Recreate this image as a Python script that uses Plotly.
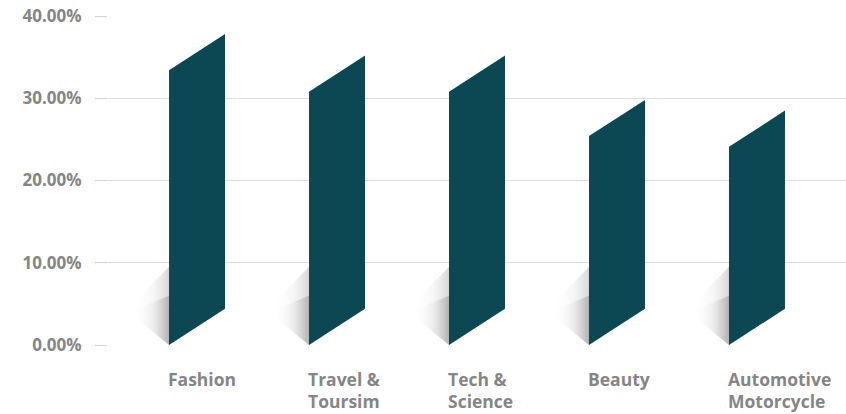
import plotly.graph_objects as go

categories = ["Fashion", "Travel &\nToursim", "Tech &\nScience", "Beauty", "Automotive\nMotorcycle"]
values = [0.334, 0.308, 0.308, 0.254, 0.241]
y_ticks = [0.0, 0.10, 0.20, 0.30, 0.40]

BAR_COLOR = "#0b4853"
TEXT_COLOR = "#858585"
GRID_COLOR = "#e2ddd8"
HALF_W = 0.2      # half bar width in category units
RISE = 0.044      # upward skew of the right edge
SHADOW_DX = 0.26  # horizontal reach of the cast shadow
LINE_GAP = 22     # px between label lines

# cast shadow layers: (top at bar edge, top at far edge, max alpha)
shadow_layers = [(0.095, 0.05, 0.28), (0.06, 0.042, 0.35)]

fig = go.Figure()

for i, v in enumerate(values):
    left, right = i - HALF_W, i + HALF_W
    # soft cast shadow falling to the left of the bar foot
    for top_edge, top_far, alpha in shadow_layers:
        fig.add_trace(go.Scatter(
            x=[left, left - SHADOW_DX, left - SHADOW_DX, left, left],
            y=[0, 0.036, top_far, top_edge, 0],
            mode="lines", line=dict(width=0), fill="toself",
            fillgradient=dict(type="horizontal",
                              colorscale=[[0, "rgba(255,255,255,0)"],
                                          [0.55, f"rgba(190,190,190,{alpha * 0.45:.3f})"],
                                          [1, f"rgba(110,110,110,{alpha:.3f})"]]),
            hoverinfo="skip", showlegend=False,
        ))
    # skewed bar (parallelogram)
    fig.add_trace(go.Scatter(
        x=[left, right, right, left, left],
        y=[0, RISE, v + RISE, v, 0],
        mode="lines", line=dict(width=0, color=BAR_COLOR), fill="toself",
        fillcolor=BAR_COLOR, name=categories[i].replace("\n", " "),
        hoverinfo="name", showlegend=False,
    ))
    # category label, left-aligned with the bar, one annotation per line
    for k, line in enumerate(categories[i].split("\n")):
        fig.add_annotation(
            x=left, y=-0.064, xref="x", yref="paper", xshift=-2, yshift=-LINE_GAP * k,
            xanchor="left", yanchor="top", align="left",
            text=line, showarrow=False, borderpad=0,
            font=dict(family="Open Sans", size=17.5, color=TEXT_COLOR, weight="bold"),
        )

fig.update_layout(
    width=846, height=414,
    margin=dict(l=108, r=0, t=16, b=69),
    paper_bgcolor="white", plot_bgcolor="white",
    xaxis=dict(range=[-0.636, 4.636], showgrid=False, zeroline=False,
               showticklabels=False, ticks="", showline=False, fixedrange=True),
    yaxis=dict(range=[0, 0.40], tickvals=y_ticks, tickformat=".2%",
               showgrid=True, gridcolor=GRID_COLOR, gridwidth=1,
               zeroline=False, showline=False,
               ticks="outside", ticklen=12, tickcolor="#d6d2ce", tickwidth=1,
               ticklabelstandoff=10,
               tickfont=dict(family="Open Sans", size=17, color=TEXT_COLOR, weight="bold"),
               fixedrange=True),
)

fig.write_html("out.html")
